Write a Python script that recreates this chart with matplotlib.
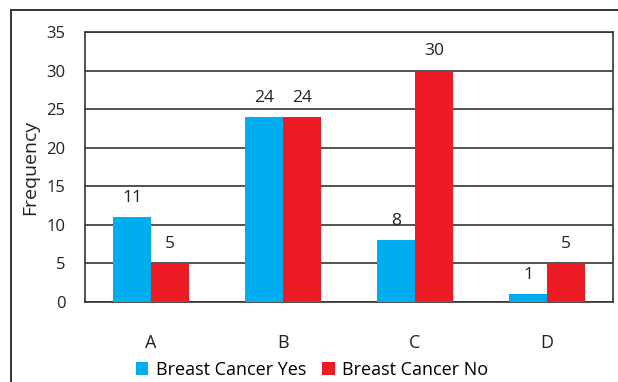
import numpy as np
import matplotlib.pyplot as plt
from matplotlib.patches import Rectangle

plt.rcParams['font.family'] = ['Open Sans', 'DejaVu Sans']
plt.rcParams['font.size'] = 11.5

groups = ['A', 'B', 'C', 'D']
cancer_yes = [11, 24, 8, 1]
cancer_no = [5, 24, 30, 5]
series_names = ['Breast Cancer Yes', 'Breast Cancer No']
yticks = [0, 5, 10, 15, 20, 25, 30, 35]

blue = '#00AEEF'
red = '#ED1C24'
dark = '#333333'

fig = plt.figure(figsize=(6.18, 3.82), dpi=100)
W, H = 618, 382
ax = fig.add_axes([85 / W, 1 - 302 / H, (613 - 85) / W, (302 - 32) / H])

# outer frame of the chart area
fig.patches.append(Rectangle((11 / W, -0.05), 1.2, 1 - 10 / H + 0.05,
                             transform=fig.transFigure, fill=False,
                             edgecolor=dark, linewidth=1.4))

x = np.arange(len(groups))
w = 0.288
b1 = ax.bar(x - w / 2, cancer_yes, w, color=blue, label=series_names[0], zorder=3)
b2 = ax.bar(x + w / 2, cancer_no, w, color=red, label=series_names[1], zorder=3)

for bars, vals in ((b1, cancer_yes), (b2, cancer_no)):
    for bar, v in zip(bars, vals):
        ax.annotate(str(v), (bar.get_x() + bar.get_width() / 2, v),
                    xytext=(0, 8), textcoords='offset points',
                    ha='center', va='bottom', color='#222222', fontsize=12.5)

ax.set_xlim(-0.5, len(groups) - 0.5)
ax.set_ylim(0, 35)
ax.set_yticks(yticks)
ax.set_xticks(x)
ax.set_xticklabels(groups, fontsize=13)
ax.tick_params(axis='both', length=0, colors='#222222')
ax.tick_params(axis='x', pad=23)
ax.tick_params(axis='y', pad=14, labelsize=12)
ax.yaxis.grid(True, color=dark, linewidth=1.2, zorder=0)
for s in ax.spines.values():
    s.set_color(dark)
    s.set_linewidth(1.2)
ax.set_ylabel('Frequency', color='#222222', labelpad=5, fontsize=14)

ax.legend(loc='center', bbox_to_anchor=(312 / W, 1 - 370 / H),
          bbox_transform=fig.transFigure, ncol=2, frameon=False,
          fontsize=13, handlelength=0.7, handleheight=0.7, handletextpad=0.4,
          columnspacing=0.9, borderaxespad=0)

fig.savefig('out.png', dpi=100)
